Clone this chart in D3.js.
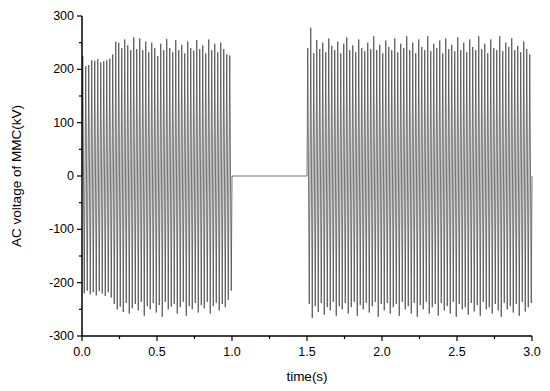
<!DOCTYPE html>
<html>
<head>
<meta charset="utf-8">
<script src="https://cdn.jsdelivr.net/npm/d3@7"></script>
<style>
  body { margin: 0; background: #fff; }
  text { font-family: "Liberation Sans", Arial, sans-serif; }
</style>
</head>
<body>
<svg id="chart" width="550" height="391"></svg>
<script>
// AC voltage of MMC, 50 Hz, fault between 1.0 s and 1.5 s
// each value = one cycle's positive / negative peak (kV)

const xTicks = [0, 0.5, 1.0, 1.5, 2.0, 2.5, 3.0];
const yTicks = [-300, -200, -100, 0, 100, 200, 300];

// 0.0 - 1.0 s, 50 cycles
const upper1 = [225, 206, 208, 217, 216, 219, 213, 215, 217, 220,
                228, 252, 250, 240, 256, 245, 236, 260, 238, 258,
                236, 252, 232, 250, 240, 225, 248, 236, 257, 240,
                232, 255, 236, 246, 230, 252, 240, 235, 255, 238,
                245, 230, 256, 236, 248, 232, 250, 238, 228, 226];
const lower1 = [-220, -215, -222, -218, -224, -216, -220, -225, -218, -228,
                -240, -250, -245, -255, -238, -258, -248, -240, -252, -236,
                -262, -244, -250, -238, -256, -242, -264, -236, -250, -245,
                -240, -258, -246, -236, -262, -244, -250, -238, -256, -242,
                -248, -236, -258, -244, -238, -252, -240, -246, -232, -215];

// 1.5 - 3.0 s, 75 cycles
const upper2 = [240, 278, 230, 255, 238, 250, 232, 258, 244, 236,
                252, 230, 248, 260, 236, 245, 232, 256, 240, 234,
                250, 238, 262, 236, 246, 230, 254, 242, 236, 258,
                232, 248, 240, 262, 236, 250, 230, 256, 242, 236,
                262, 234, 248, 240, 254, 230, 258, 238, 246, 234,
                260, 236, 250, 232, 256, 242, 236, 262, 238, 248,
                230, 256, 240, 236, 262, 234, 250, 242, 258, 236,
                244, 232, 252, 238, 228];
const lower2 = [-240, -266, -244, -255, -238, -260, -246, -252, -236, -262,
                -244, -250, -238, -258, -246, -236, -262, -242, -250, -238,
                -256, -244, -236, -264, -240, -252, -238, -258, -246, -240,
                -262, -236, -250, -244, -258, -238, -264, -242, -250, -236,
                -258, -246, -240, -262, -238, -252, -244, -258, -236, -264,
                -240, -250, -246, -260, -238, -254, -242, -262, -236, -250,
                -246, -258, -240, -252, -264, -238, -250, -244, -256, -240,
                -262, -236, -254, -246, -238];

const freq = 50;
const tOn1 = 0, tOff1 = 1.0, tOn2 = 1.5, tEnd = 3.0;

const svg = d3.select("#chart");
const margin = {left: 82, right: 18, top: 16, bottom: 55};
const width = 550, height = 391;

const x = d3.scaleLinear().domain([0, 3]).range([margin.left, width - margin.right]);
const y = d3.scaleLinear().domain([-300, 300]).range([height - margin.bottom, margin.top]);

// build the waveform: peak and trough each cycle
function cycles(t0, up, lo) {
  const pts = [];
  const T = 1 / freq;
  up.forEach((u, i) => {
    const ts = t0 + i * T;
    pts.push([ts, 0]);
    pts.push([ts + T / 4, u]);
    pts.push([ts + T / 2, 0]);
    pts.push([ts + 3 * T / 4, lo[i]]);
  });
  return pts;
}

let wave = cycles(tOn1, upper1, lower1);
wave.push([tOff1, 0]);
wave.push([tOn2, 0]);
wave = wave.concat(cycles(tOn2, upper2, lower2));
wave.push([tEnd, 0]);

const line = d3.line().x(d => x(d[0])).y(d => y(d[1]));

svg.append("path")
  .datum(wave)
  .attr("d", line)
  .attr("fill", "none")
  .attr("stroke", "#444")
  .attr("stroke-width", 0.75);

// axes, ticks outward like origin
const xAxis = svg.append("g")
  .attr("transform", "translate(0," + y(-300) + ")");
xAxis.append("line")
  .attr("x1", x(0)).attr("x2", x(3))
  .attr("stroke", "#000").attr("stroke-width", 1.5);
xAxis.selectAll(".minor")
  .data(d3.range(0.25, 3, 0.5))
  .enter().append("line")
  .attr("x1", d => x(d)).attr("x2", d => x(d))
  .attr("y1", 0).attr("y2", 3)
  .attr("stroke", "#000").attr("stroke-width", 1.2);
xAxis.selectAll(".major")
  .data(xTicks)
  .enter().append("line")
  .attr("x1", d => x(d)).attr("x2", d => x(d))
  .attr("y1", 0).attr("y2", 5)
  .attr("stroke", "#000").attr("stroke-width", 1.2);
xAxis.selectAll("text")
  .data(xTicks)
  .enter().append("text")
  .attr("x", d => x(d))
  .attr("y", 20)
  .attr("text-anchor", "middle")
  .style("font-size", "12.5px")
  .text(d => d3.format(".1f")(d));

const yAxis = svg.append("g")
  .attr("transform", "translate(" + x(0) + ",0)");
yAxis.append("line")
  .attr("y1", y(-300)).attr("y2", y(300))
  .attr("stroke", "#000").attr("stroke-width", 1.5);
yAxis.selectAll(".minor")
  .data(d3.range(-250, 300, 100))
  .enter().append("line")
  .attr("y1", d => y(d)).attr("y2", d => y(d))
  .attr("x1", 0).attr("x2", -3)
  .attr("stroke", "#000").attr("stroke-width", 1.2);
yAxis.selectAll(".major")
  .data(yTicks)
  .enter().append("line")
  .attr("y1", d => y(d)).attr("y2", d => y(d))
  .attr("x1", 0).attr("x2", -5)
  .attr("stroke", "#000").attr("stroke-width", 1.2);
yAxis.selectAll("text")
  .data(yTicks)
  .enter().append("text")
  .attr("x", -8)
  .attr("y", d => y(d) + 4)
  .attr("text-anchor", "end")
  .style("font-size", "12.5px")
  .text(d => d);

svg.append("text")
  .attr("x", (x(0) + x(3)) / 2)
  .attr("y", 381)
  .attr("text-anchor", "middle")
  .style("font-size", "13.5px")
  .text("time(s)");

svg.append("text")
  .attr("transform", "translate(21," + y(0) + ") rotate(-90)")
  .attr("text-anchor", "middle")
  .style("font-size", "13.5px")
  .text("AC voltage of MMC(kV)");
</script>
</body>
</html>
